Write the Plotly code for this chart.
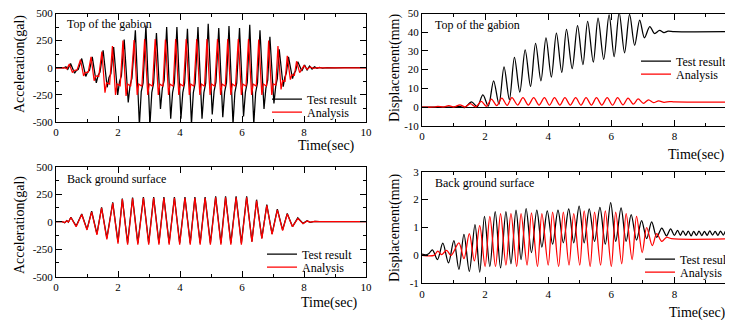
import plotly.graph_objects as go

# ---------------- data ----------------
# Top of the gabion - acceleration (gal)
TL_TEST_T = [0, 0.25, 0.32, 0.38,
             0.47, 0.60, 0.66, 0.72, 0.83, 0.96, 1.02, 1.08, 1.17, 1.30, 1.36, 1.42,
             1.52, 1.65, 1.71, 1.77, 1.86, 1.99, 2.05, 2.11, 2.20, 2.33, 2.39, 2.45,
             2.56, 2.69, 2.75, 2.81, 2.90, 3.03, 3.09, 3.15, 3.24, 3.37, 3.43, 3.49,
             3.57, 3.70, 3.76, 3.82, 3.90, 4.03, 4.09, 4.15, 4.24, 4.37, 4.43, 4.49,
             4.58, 4.71, 4.77, 4.83, 4.91, 5.04, 5.10, 5.16, 5.25, 5.38, 5.44, 5.50,
             5.58, 5.71, 5.77, 5.83, 5.92, 6.05, 6.11, 6.17, 6.25, 6.38, 6.44, 6.50,
             6.58, 6.71, 6.77, 6.83, 6.90, 7.03, 7.09, 7.14, 7.20, 7.33, 7.38, 7.43,
             7.50, 7.63, 7.68, 7.73, 7.80, 7.93,
             8.02, 8.10, 8.18, 8.26, 8.34, 8.42, 8.50, 8.60, 8.75, 9.00, 9.30, 9.60, 10.0]
TL_TEST_V = [0, 0, 8, -15,
             40, -50, -25, -15, 85, -80, -40, -25, 100, -140, -70, -40,
             160, -180, -90, -55, 190, -250, -125, -75, 260, -320, -160, -95,
             345, -530, -220, -140, 390, -530, -230, -140, 320, -380, -190, -115,
             375, -470, -230, -140, 375, -470, -230, -140, 360, -520, -230, -140,
             375, -470, -230, -140, 405, -430, -215, -130, 365, -455, -225, -135,
             385, -520, -230, -140, 365, -450, -225, -135, 395, -520, -230, -140,
             345, -380, -190, -115, 285, -330, -165, -100, 170, -175, -90, -50,
             100, -100, -50, -30, 55, -30,
             25, -20, 15, -12, 8, -6, 4, -3, 2, -2, 2, -1, 0]

TL_ANA_T = [0, 0.28, 0.35,
            0.43, 0.53, 0.58, 0.68, 0.79, 0.89, 0.94, 1.04, 1.13, 1.23, 1.28, 1.38,
            1.48, 1.58, 1.63, 1.73, 1.82, 1.92, 1.97, 2.07, 2.16, 2.26, 2.31, 2.41,
            2.52, 2.62, 2.67, 2.77, 2.86, 2.96, 3.01, 3.11, 3.20, 3.30, 3.35, 3.45,
            3.53, 3.63, 3.68, 3.78, 3.86, 3.96, 4.01, 4.11, 4.20, 4.30, 4.35, 4.45,
            4.54, 4.64, 4.69, 4.79, 4.87, 4.97, 5.02, 5.12, 5.21, 5.31, 5.36, 5.46,
            5.54, 5.64, 5.69, 5.79, 5.88, 5.98, 6.03, 6.13, 6.21, 6.31, 6.36, 6.46,
            6.54, 6.64, 6.69, 6.79, 6.86, 6.96, 7.01, 7.09, 7.16, 7.26, 7.31, 7.39,
            7.46, 7.56, 7.61, 7.69, 7.76, 7.86,
            8.00, 8.10, 8.20, 8.30, 8.45, 8.60, 10.0]
TL_ANA_V = [0, 0, -10,
            35, -45, -25, -20, 75, -75, -45, -40, 100, -120, -75, -80,
            150, -230, -140, -150, 200, -250, -150, -165, 250, -260, -150, -170,
            255, -250, -150, -170, 265, -250, -150, -170, 265, -250, -150, -170,
            260, -250, -150, -170, 265, -250, -150, -170, 265, -250, -150, -170,
            265, -250, -150, -170, 265, -250, -150, -170, 265, -250, -150, -170,
            265, -250, -150, -170, 265, -250, -150, -170, 265, -250, -150, -170,
            260, -250, -150, -170, 250, -250, -150, -160, 200, -200, -120, -125,
            110, -110, -65, -70, 60, -45,
            20, -15, 8, -5, 2, 0, 0]

# Top of the gabion - displacement (mm)
TR_TEST_T = [0, 1.00, 1.20, 1.35, 1.57, 1.75, 1.93, 2.10, 2.27, 2.44, 2.60, 2.77, 2.93,
             3.10, 3.27, 3.44, 3.60, 3.77, 3.93, 4.10, 4.26, 4.43, 4.58, 4.76, 4.93,
             5.10, 5.25, 5.43, 5.58, 5.76, 5.93, 6.09, 6.25, 6.42, 6.58, 6.74, 6.90,
             7.05, 7.22, 7.37, 7.53, 7.67, 7.80, 8.00, 10.0]
TR_TEST_V = [0, 0, 0.3, -0.3, 2.7, 0.2, 6.5, 0.5, 14, 1.5, 21.5, 4, 26.5,
             8, 30.5, 11, 34, 14, 37, 16, 39.5, 18.5, 41.5, 20.5, 43.5,
             22.7, 45.8, 24, 47.5, 25.5, 49.3, 27, 50.5, 29, 49.5, 33, 46.5,
             37, 43, 39.3, 41, 39.8, 40.6, 40.3, 40.3]

TR_ANA_T = [0, 0.40, 0.50, 0.68, 0.85, 1.02, 1.20, 1.37, 1.53, 1.70, 1.88, 2.04,
            2.20, 2.37, 2.53, 2.70, 2.85, 3.03, 3.20, 3.37, 3.54, 3.71, 3.88, 4.04,
            4.20, 4.37, 4.53, 4.70, 4.87, 5.04, 5.20, 5.37, 5.53, 5.70, 5.87, 6.04,
            6.20, 6.37, 6.53, 6.70, 6.85, 7.02, 7.18, 7.34, 7.50, 7.67, 7.85, 8.00, 10.0]
TR_ANA_V = [0, 0, 0.3, 0, 0.7, 0, 1.2, 0, 1.8, 0.1, 3.0, 0.4,
            4.2, 0.7, 4.8, 0.9, 5.0, 1.0, 5.0, 1.0, 5.0, 1.0, 5.0, 1.0,
            5.0, 1.0, 5.0, 1.0, 5.0, 1.0, 5.0, 1.0, 5.0, 1.0, 5.0, 1.0,
            5.0, 1.1, 4.8, 1.5, 4.3, 2.0, 3.8, 2.3, 3.3, 2.5, 2.9, 2.7, 2.7]

# Back ground surface - acceleration (gal)
BL_TEST_T = [0, 0.20, 0.28, 0.35, 0.40,
             0.48, 0.65, 0.83, 1.00, 1.15, 1.32, 1.47, 1.64, 1.83, 2.00, 2.14, 2.31,
             2.47, 2.64, 2.82, 2.99, 3.15, 3.32, 3.48, 3.65, 3.82, 3.99, 4.16, 4.33,
             4.48, 4.65, 4.81, 4.98, 5.15, 5.32, 5.47, 5.64, 5.81, 5.98, 6.15, 6.32,
             6.47, 6.64, 6.80, 6.97, 7.14, 7.31, 7.46, 7.63, 7.80, 7.97,
             8.10, 8.20, 8.35, 8.50, 9.00, 9.50, 10.0]
BL_TEST_V = [0, 0, -10, 10, -5,
             40, -40, 70, -70, 95, -110, 130, -150, 175, -185, 210, -195,
             220, -195, 225, -195, 225, -195, 225, -195, 225, -195, 225, -195,
             225, -195, 225, -195, 230, -195, 230, -195, 230, -195, 230, -180,
             200, -150, 155, -110, 115, -75, 75, -45, 35, -15,
             8, -5, 3, 0, 2, -2, 0]

BL_ANA_T = [0, 0.20, 0.28, 0.35, 0.40,
            0.48, 0.65, 0.83, 1.00, 1.15, 1.32, 1.47, 1.64, 1.83, 2.00, 2.14, 2.31,
            2.47, 2.64, 2.82, 2.99, 3.15, 3.32, 3.48, 3.65, 3.82, 3.99, 4.16, 4.33,
            4.48, 4.65, 4.81, 4.98, 5.15, 5.32, 5.47, 5.64, 5.81, 5.98, 6.15, 6.32,
            6.47, 6.64, 6.80, 6.97, 7.14, 7.31, 7.46, 7.63, 7.80, 7.97,
            8.10, 8.20, 8.35, 8.50, 10.0]
BL_ANA_V = [0, 0, -8, 8, -4,
            38, -45, 65, -75, 90, -120, 125, -160, 170, -200, 205, -210,
            212, -210, 218, -210, 218, -210, 218, -210, 218, -210, 218, -210,
            218, -210, 218, -210, 222, -210, 222, -210, 222, -210, 222, -185,
            192, -155, 148, -115, 108, -80, 70, -45, 30, -18,
            6, -4, 2, 0, 0]

# Back ground surface - displacement (mm)
BR_TEST_T = [0, 0.12, 0.22, 0.33, 0.49, 0.66, 0.84, 1.01, 1.17, 1.33, 1.50, 1.68,
             1.83, 1.98, 2.15, 2.32, 2.49, 2.66, 2.82, 2.98, 3.14, 3.30, 3.47, 3.64,
             3.80, 3.97, 4.14, 4.31, 4.48, 4.65, 4.81, 4.98, 5.14, 5.30, 5.47, 5.64,
             5.81, 5.98, 6.14, 6.31, 6.47, 6.63, 6.80, 6.96, 7.12, 7.28, 7.44, 7.60,
             7.75, 7.88, 8.00, 8.10, 8.19, 8.27, 8.36, 8.44, 8.53, 8.61, 8.70, 8.78,
             8.87, 8.95, 9.04, 9.12, 9.21, 9.29, 9.38, 9.46, 9.55, 9.63, 9.72, 9.80,
             9.89, 10.0]
BR_TEST_V = [0.05, 0.02, 0.07, 0.2, -0.15, 0.44, -0.27, 0.53, -0.5, 0.75, -0.57, 1.1,
             -0.6, 1.4, -0.4, 1.57, -0.45, 1.57, -0.3, 1.62, -0.15, 1.68, 0.1, 1.62,
             0.3, 1.6, 0.4, 1.62, 0.45, 1.67, 0.45, 1.77, 0.45, 1.67, 0.5, 1.72,
             0.4, 1.89, 0.5, 1.7, 0.5, 1.46, 0.55, 1.25, 0.6, 1.2, 0.65, 0.98,
             0.7, 0.95, 0.72, 0.9, 0.72, 0.88, 0.72, 0.87, 0.7, 0.86, 0.72, 0.87,
             0.71, 0.86, 0.72, 0.88, 0.73, 0.86, 0.72, 0.87, 0.73, 0.88, 0.72, 0.87,
             0.74, 0.85]

BR_ANA_T = [0, 0.38, 0.50, 0.62, 0.78, 0.92, 1.17, 1.33, 1.50, 1.66, 1.83, 2.00,
            2.15, 2.33, 2.49, 2.66, 2.82, 3.00, 3.14, 3.33, 3.47, 3.66, 3.80, 4.00,
            4.14, 4.33, 4.48, 4.66, 4.81, 5.00, 5.14, 5.33, 5.47, 5.66, 5.81, 6.00,
            6.14, 6.33, 6.47, 6.66, 6.80, 6.98, 7.12, 7.30, 7.44, 7.60, 7.75, 7.90, 10.0]
BR_ANA_V = [0, 0, 0.15, 0.03, 0.18, 0.0, 0.45, -0.12, 0.78, -0.2, 1.07, -0.4,
            1.4, -0.4, 1.5, -0.35, 1.5, -0.4, 1.5, -0.35, 1.52, -0.4, 1.5, -0.35,
            1.55, -0.4, 1.55, -0.35, 1.5, -0.35, 1.6, -0.4, 1.55, -0.35, 1.6, -0.4,
            1.55, -0.3, 1.5, -0.15, 1.4, 0.1, 1.0, 0.35, 0.78, 0.5, 0.65, 0.6, 0.6]

# tick labels
TIME_TICKS = [0, 2, 4, 6, 8, 10]
TIME_TEXT = ["0", "2", "4", "6", "8", "10"]
TIME_TICKS_R = [0, 2, 4, 6, 8]          # right panels: 10 lies beyond the frame edge
TIME_TEXT_R = ["0", "2", "4", "6", "8"]
ACC_TICKS = [-500, -250, 0, 250, 500]
ACC_TEXT = ["-500", "-250", "0", "250", "500"]
DTOP_TICKS = [-10, 0, 10, 20, 30, 40, 50]
DTOP_TEXT = ["-10", "0", "10", "20", "30", "40", "50"]
DBACK_TICKS = [-1, 0, 1, 2, 3]
DBACK_TEXT = ["-1", "0", "1", "2", "3"]

SERIES_NAMES = ["Test result", "Analysis"]
PANEL_TITLES = ["Top of the gabion", "Top of the gabion", "Back ground surface", "Back ground surface"]

# ---------------- figure ----------------
W, H = 733, 320
OFF = 8  # the page body offsets the figure by 8 px
FONT = "Liberation Serif, Times New Roman, Times, serif"


def fx(px):
    return (px - OFF) / W


def fy(py):
    return 1 - (py - OFF) / H


fig = go.Figure()

panels = [
    ("x", "y", TL_TEST_T, TL_TEST_V, TL_ANA_T, TL_ANA_V, "linear"),
    ("x2", "y2", TR_TEST_T, TR_TEST_V, TR_ANA_T, TR_ANA_V, "spline"),
    ("x3", "y3", BL_TEST_T, BL_TEST_V, BL_ANA_T, BL_ANA_V, "linear"),
    ("x4", "y4", BR_TEST_T, BR_TEST_V, BR_ANA_T, BR_ANA_V, "spline"),
]

leg_idx = 1
for xa, ya, tt, tv, at, av, shp in panels:
    for name, t, v, col in [(SERIES_NAMES[0], tt, tv, "#000000"), (SERIES_NAMES[1], at, av, "#ff0000")]:
        lname = "legend" if leg_idx == 1 else f"legend{leg_idx}"
        line = dict(color=col, width=1.25, shape=shp)
        if shp == "spline":
            line["smoothing"] = 0.9
        fig.add_trace(go.Scatter(x=t, y=v, mode="lines", name=name, line=line,
                                 xaxis=xa, yaxis=ya, legend=lname, showlegend=True))
        leg_idx += 1

axis_common = dict(showline=True, linecolor="black", linewidth=1, mirror="allticks",
                   ticks="inside", ticklen=6, tickcolor="black", showgrid=False,
                   zeroline=False, tickfont=dict(family=FONT, size=11, color="black"),
                   tickmode="array", automargin=False, ticklabeloverflow="allow")

x_common = dict(axis_common, range=[0, 10], tickvals=TIME_TICKS, ticktext=TIME_TEXT,
                minor=dict(ticks="inside", ticklen=3, tick0=0, dtick=1, tickcolor="black"))
x_common_r = dict(x_common, tickvals=TIME_TICKS_R, ticktext=TIME_TEXT_R)

L0, L1 = fx(56), fx(366)
R0, R1 = fx(422), fx(737.5)

fig.update_layout(
    width=W, height=H, autosize=False,
    margin=dict(l=0, r=0, t=0, b=0, autoexpand=False),
    paper_bgcolor="white", plot_bgcolor="white",
    font=dict(family=FONT, color="black"),
    showlegend=True,
    xaxis=dict(x_common, domain=[L0, L1], anchor="y"),
    yaxis=dict(axis_common, domain=[fy(122), fy(13.5)], anchor="x", range=[-500, 500],
               tickvals=ACC_TICKS, ticktext=ACC_TEXT,
               minor=dict(ticks="inside", ticklen=3, tick0=0, dtick=125, tickcolor="black")),
    xaxis2=dict(x_common_r, domain=[R0, R1], anchor="y2"),
    yaxis2=dict(axis_common, domain=[fy(125.7), fy(13.5)], anchor="x2", range=[-10, 50],
                tickvals=DTOP_TICKS, ticktext=DTOP_TEXT, zeroline=True,
                zerolinecolor="black", zerolinewidth=1),
    xaxis3=dict(x_common, domain=[L0, L1], anchor="y3"),
    yaxis3=dict(axis_common, domain=[fy(276.7), fy(166.7)], anchor="x3", range=[-500, 500],
                tickvals=ACC_TICKS, ticktext=ACC_TEXT,
                minor=dict(ticks="inside", ticklen=3, tick0=0, dtick=125, tickcolor="black")),
    xaxis4=dict(x_common_r, domain=[R0, R1], anchor="y4"),
    yaxis4=dict(axis_common, domain=[fy(283.3), fy(171.7)], anchor="x4", range=[-1, 3],
                tickvals=DBACK_TICKS, ticktext=DBACK_TEXT),
)

# legends: one entry each, placed like the reference
legend_pos = [(307, 99), (307, 112), (676, 61), (676, 74),
              (302, 254), (302, 267), (680, 259), (680, 272)]
for i, (tx, ty) in enumerate(legend_pos, start=1):
    key = "legend" if i == 1 else f"legend{i}"
    fig.update_layout({key: dict(x=fx(tx - 40), y=fy(ty), xanchor="left", yanchor="middle",
                                 bgcolor="rgba(0,0,0,0)", borderwidth=0, itemwidth=30,
                                 visible=True,
                                 font=dict(family=FONT, size=12, color="black"))})

# panel titles
title_pos = [(65, 24), (433, 25), (65, 179), (433, 183)]
for txt, (tx, ty) in zip(PANEL_TITLES, title_pos):
    fig.add_annotation(text=txt, x=fx(tx), y=fy(ty), xref="paper", yref="paper",
                       xanchor="left", yanchor="middle", showarrow=False,
                       font=dict(family=FONT, size=12, color="black"))

# axis titles
for tx, ty in [(326, 146), (696, 155), (329, 303), (697, 313)]:
    fig.add_annotation(text="Time(sec)", x=fx(tx), y=fy(ty), xref="paper", yref="paper",
                       xanchor="center", yanchor="middle", showarrow=False,
                       font=dict(family=FONT, size=14, color="black"))
for txt, tx, ty in [("Acceleration(gal)", 20, 64), ("Displacement(mm)", 395, 68),
                    ("Acceleration(gal)", 20, 225), ("Displacement(mm)", 395, 228)]:
    fig.add_annotation(text=txt, x=fx(tx), y=fy(ty), xref="paper", yref="paper",
                       xanchor="center", yanchor="middle", textangle=-90, showarrow=False,
                       font=dict(family=FONT, size=14, color="black"))

fig.write_html("out.html")
